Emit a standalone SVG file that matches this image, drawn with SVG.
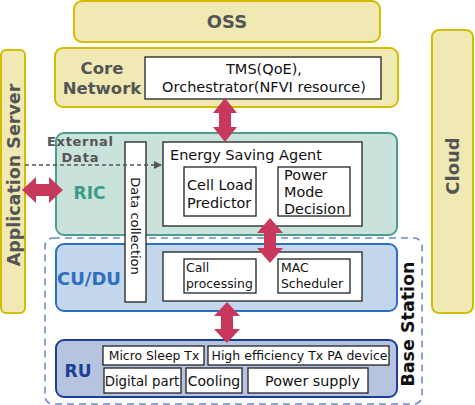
<svg xmlns="http://www.w3.org/2000/svg" width="475" height="405" viewBox="0 0 475 405">
<defs>
<style>
.yel{fill:#f0e9b4;stroke:#d4bc00;stroke-width:2}
.wb{fill:#ffffff;stroke:#222;stroke-width:1.3}
.t{font-family:"DejaVu Sans",Verdana,sans-serif;fill:#111}
.lbl{font-family:"DejaVu Sans",Verdana,sans-serif;font-weight:bold;fill:#555}
.arr{fill:#c8385c}
</style>
<marker id="ah" markerWidth="8" markerHeight="8" refX="7" refY="4" orient="auto" markerUnits="userSpaceOnUse">
<path d="M0,0 L8,4 L0,8 Z" fill="#555"/>
</marker>
</defs>
<rect width="475" height="405" fill="#ffffff"/>

<g id="oss">
<rect class="yel" x="74" y="1" width="306" height="41" rx="8"/>
<text class="lbl" x="227" y="28" font-size="18" text-anchor="middle">OSS</text>
</g>

<g id="app-server">
<rect class="yel" x="1" y="50" width="24" height="263" rx="5"/>
<text class="lbl" transform="translate(19.5,175) rotate(-90)" font-size="17.5" text-anchor="middle">Application Server</text>
</g>

<g id="cloud">
<rect class="yel" x="432" y="30" width="41" height="283" rx="7"/>
<text class="lbl" transform="translate(458.5,166) rotate(-90)" font-size="18" text-anchor="middle">Cloud</text>
</g>

<g id="core-network">
<rect class="yel" x="55" y="48" width="343" height="59" rx="8"/>
<text class="lbl" x="102" y="74" font-size="16.5" text-anchor="middle">Core</text>
<text class="lbl" x="102" y="94" font-size="16.5" text-anchor="middle">Network</text>
<rect class="wb" x="145" y="57" width="236" height="42"/>
<text class="t" x="264" y="74" font-size="14.5" text-anchor="middle">TMS(QoE),</text>
<text class="t" x="264" y="92" font-size="14.5" text-anchor="middle">Orchestrator(NFVI resource)</text>
</g>

<g id="base-station">
<rect x="45" y="238" width="377" height="166" rx="8" fill="none" stroke="#6e8ac8" stroke-width="1.6" stroke-dasharray="7,5"/>
<text transform="translate(414,324) rotate(-90)" font-family="'DejaVu Sans',Verdana,sans-serif" font-weight="bold" font-size="17.5" fill="#111" text-anchor="middle">Base Station</text>
</g>

<g id="ric">
<rect x="56" y="133" width="341" height="102" rx="8" fill="#c9e2dc" stroke="#4e9e90" stroke-width="2"/>
<text x="89.5" y="199" font-family="'DejaVu Sans',Verdana,sans-serif" font-weight="bold" font-size="17" fill="#3c9a88" text-anchor="middle">RIC</text>
<text class="lbl" x="80" y="146" font-size="13" text-anchor="middle" textLength="66" lengthAdjust="spacing">External</text>
<text class="lbl" x="80" y="161.5" font-size="13" text-anchor="middle" textLength="37" lengthAdjust="spacing">Data</text>
</g>

<g id="cu-du">
<rect x="56" y="244" width="341" height="67" rx="8" fill="#c2d6ec" stroke="#2e6fc0" stroke-width="2"/>
<text x="89" y="285" font-family="'DejaVu Sans',Verdana,sans-serif" font-weight="bold" font-size="18" fill="#2e6fc0" text-anchor="middle">CU/DU</text>
<rect class="wb" x="163" y="252" width="199" height="49"/>
</g>

<g id="call-processing">
<rect class="wb" x="184" y="259" width="72" height="34"/>
<text class="t" x="186" y="272" font-size="12.4">Call</text>
<text class="t" x="186" y="288" font-size="12.4">processing</text>
</g>

<g id="mac-scheduler">
<rect class="wb" x="278" y="259" width="72" height="34"/>
<text class="t" x="281" y="272" font-size="12.4">MAC</text>
<text class="t" x="281" y="288" font-size="12.4">Scheduler</text>
</g>

<g id="energy-saving-agent">
<rect class="wb" x="163" y="142" width="199" height="84"/>
<text class="t" x="170" y="160" font-size="14.5">Energy Saving Agent</text>
</g>

<g id="cell-load-predictor">
<rect class="wb" x="184" y="167" width="72" height="49"/>
<text class="t" x="187" y="190" font-size="14.4">Cell Load</text>
<text class="t" x="187" y="208" font-size="14.4">Predictor</text>
</g>

<g id="power-mode-decision">
<rect class="wb" x="278" y="167" width="72" height="49"/>
<text class="t" x="284" y="180" font-size="14.4">Power</text>
<text class="t" x="284" y="197" font-size="14.4">Mode</text>
<text class="t" x="284" y="214" font-size="14.4">Decision</text>
</g>

<g id="data-collection">
<rect class="wb" x="125" y="142" width="21" height="160"/>
<text class="t" transform="translate(131,226) rotate(90)" font-size="13" text-anchor="middle">Data collection</text>
</g>

<g id="ru">
<rect x="56" y="340" width="341" height="57" rx="8" fill="#b6c4e0" stroke="#1a3f94" stroke-width="2"/>
<text x="78" y="377" font-family="'DejaVu Sans',Verdana,sans-serif" font-weight="bold" font-size="17" fill="#1a3f94" text-anchor="middle">RU</text>
</g>

<g id="micro-sleep-tx">
<rect class="wb" x="103" y="346" width="101" height="19"/>
<text class="t" x="154" y="360" font-size="12.4" text-anchor="middle">Micro Sleep Tx</text>
</g>
<g id="high-efficiency-pa">
<rect class="wb" x="208" y="346" width="181" height="19"/>
<text class="t" x="299.5" y="360" font-size="12.5" text-anchor="middle">High efficiency Tx PA device</text>
</g>
<g id="digital-part">
<rect class="wb" x="104" y="368" width="77" height="25"/>
<text class="t" x="142" y="386" font-size="13.3" text-anchor="middle">Digital part</text>
</g>
<g id="cooling">
<rect class="wb" x="186" y="368" width="56" height="25"/>
<text class="t" x="214" y="386" font-size="14" text-anchor="middle">Cooling</text>
</g>
<g id="power-supply">
<rect class="wb" x="248" y="368" width="120" height="25"/>
<text class="t" x="312.5" y="386" font-size="14.3" text-anchor="middle">Power supply</text>
</g>

<g id="connectors">
<line x1="25" y1="165" x2="161" y2="165" stroke="#555" stroke-width="1.3" stroke-dasharray="4,3" marker-end="url(#ah)"/>
<path class="arr" d="M225,98 L237,113 L231,113 L231,127 L237,127 L225,142 L213,127 L219,127 L219,113 L213,113 Z"/>
<path class="arr" d="M270,218 L283,233 L276,233 L276,248 L283,248 L270,263 L257,248 L264,248 L264,233 L257,233 Z"/>
<path class="arr" d="M227,302 L240,316 L233,316 L233,329 L240,329 L227,343 L214,329 L221,329 L221,316 L214,316 Z"/>
<path class="arr" d="M22,190 L36,177 L36,184 L49,184 L49,177 L63,190 L49,203 L49,196 L36,196 L36,203 Z"/>
</g>
</svg>
